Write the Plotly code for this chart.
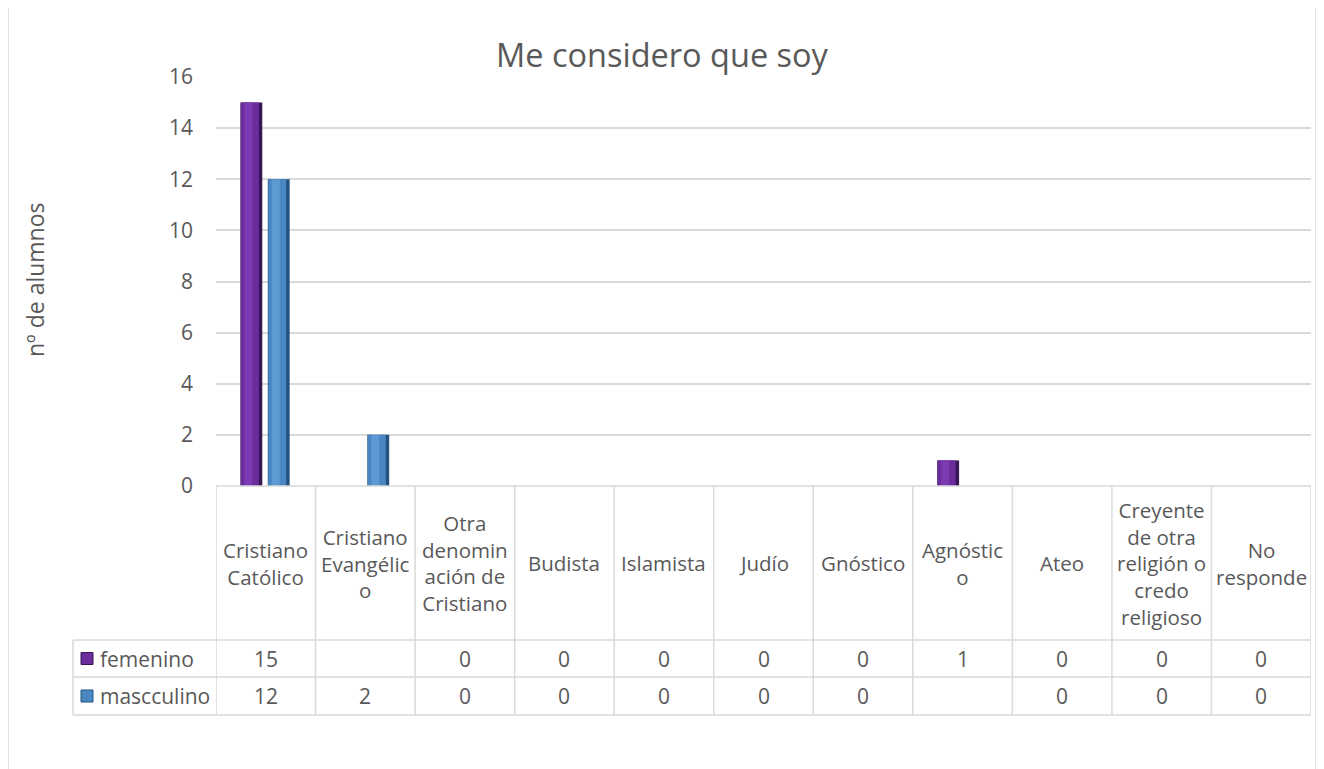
import plotly.graph_objects as go

categories = ["Cristiano<br>Católico", "Cristiano<br>Evangélic<br>o", "Otra<br>denomin<br>ación de<br>Cristiano",
              "Budista", "Islamista", "Judío", "Gnóstico", "Agnóstic<br>o", "Ateo",
              "Creyente<br>de otra<br>religión o<br>credo<br>religioso", "No<br>responde"]
femenino = [15, None, 0, 0, 0, 0, 0, 1, 0, 0, 0]
masculino = [12, 2, 0, 0, 0, 0, 0, None, 0, 0, 0]
series_names = ["femenino", "mascculino"]
y_ticks = [0, 2, 4, 6, 8, 10, 12, 14, 16]
title = "Me considero que soy"
y_title = "nº de alumnos"

W, H = 1324, 769
OFF = 8  # page body margin
FONT = "Open Sans"
GRAY = "#595959"
GRID = "#d9d9d9"


def px(x):
    return (x - OFF) / W


def py(y):
    return 1 - (y - OFF) / H


x_idx = list(range(len(categories)))
fig = go.Figure()

fem_layers = [(-0.255, 0.22, "#3a1657"), (-0.25, 0.18, "#6b2d9c"), (-0.215, 0.08, "#7d3bb3")]
mas_layers = [(0.02, 0.22, "#23527f"), (0.025, 0.18, "#4a87c2"), (0.06, 0.08, "#5d9ad3")]
for vals, layers in ((femenino, fem_layers), (masculino, mas_layers)):
    for off, w, col in layers:
        fig.add_trace(go.Bar(x=x_idx, y=vals, offset=off, width=w, marker=dict(color=col, line=dict(width=0)),
                             showlegend=False, hoverinfo="skip"))

x_left, x_right = 216, 1311
y_top, y_axis = 77, 486
row1, row2, row3 = 640, 677, 715
col0 = 73

fig.update_layout(
    template="none",
    width=W, height=H, margin=dict(l=0, r=0, t=0, b=0, pad=0), autosize=False,
    paper_bgcolor="white", plot_bgcolor="white", barmode="overlay",
    font=dict(family=FONT, color=GRAY, size=20),
    xaxis=dict(domain=[px(x_left), px(x_right)], range=[-0.5, len(categories) - 0.5], automargin=False,
               showticklabels=False, showgrid=False, zeroline=False, showline=False, ticks=""),
    yaxis=dict(domain=[py(y_axis), py(y_top)], range=[0, 16], tickvals=y_ticks, automargin=False,
               gridcolor=GRID, gridwidth=1.5, zeroline=False, showline=False, ticks="",
               ticklabelstandoff=22, tickfont=dict(size=21, color=GRAY, family=FONT)),
    showlegend=False,
)

shapes = []
shapes.append(dict(type="rect", xref="paper", yref="paper", x0=px(8), x1=px(1316), y0=py(800), y1=py(7),
                   line=dict(color=GRID, width=1.5)))
shapes.append(dict(type="line", xref="paper", yref="paper", x0=px(x_left), x1=px(x_right), y0=py(y_axis), y1=py(y_axis),
                   line=dict(color=GRID, width=1.5)))
for yy in (row1, row2, row3):
    shapes.append(dict(type="line", xref="paper", yref="paper", x0=px(col0), x1=px(x_right), y0=py(yy), y1=py(yy),
                       line=dict(color=GRID, width=1.5)))
for i in range(len(categories) + 1):
    shapes.append(dict(type="line", xref="x", yref="paper", x0=i - 0.5, x1=i - 0.5, y0=py(y_axis), y1=py(row3),
                       line=dict(color=GRID, width=1.5)))
shapes.append(dict(type="line", xref="paper", yref="paper", x0=px(col0), x1=px(col0), y0=py(row1), y1=py(row3),
                   line=dict(color=GRID, width=1.5)))
key_cols = [("#6b2d9c", "#3a1657"), ("#4a87c2", "#23527f")]
for k, (yy0, yy1) in enumerate(((row1, row2), (row2, row3))):
    yc = (yy0 + yy1) / 2
    shapes.append(dict(type="rect", xref="paper", yref="paper", x0=px(81), x1=px(93), y0=py(yc + 6), y1=py(yc - 6),
                       fillcolor=key_cols[k][0], line=dict(color=key_cols[k][1], width=1)))
fig.update_layout(shapes=shapes)

ann = []
ann.append(dict(text=title, xref="paper", yref="paper", x=px(662), y=py(55), showarrow=False,
                font=dict(size=32.5, color=GRAY), xanchor="center", yanchor="middle"))
ann.append(dict(text=y_title, xref="paper", yref="paper", x=px(35), y=py(280), showarrow=False, textangle=-90,
                font=dict(size=23, color=GRAY), xanchor="center", yanchor="middle"))
for i, c in enumerate(categories):
    ann.append(dict(text=c, xref="x", yref="paper", x=i, y=py((y_axis + row1) / 2), showarrow=False,
                    font=dict(size=20.5, color=GRAY), xanchor="center", yanchor="middle", align="center"))
for r, (vals, (yy0, yy1)) in enumerate(((femenino, (row1, row2)), (masculino, (row2, row3)))):
    yc = (yy0 + yy1) / 2
    ann.append(dict(text=series_names[r], xref="paper", yref="paper", x=px(98), y=py(yc), showarrow=False,
                    font=dict(size=21, color=GRAY), xanchor="left", yanchor="middle"))
    for i, v in enumerate(vals):
        if v is None:
            continue
        ann.append(dict(text=str(v), xref="x", yref="paper", x=i, y=py(yc), showarrow=False,
                        font=dict(size=21, color=GRAY), xanchor="center", yanchor="middle"))
fig.update_layout(annotations=ann)

fig.write_html("out.html")
